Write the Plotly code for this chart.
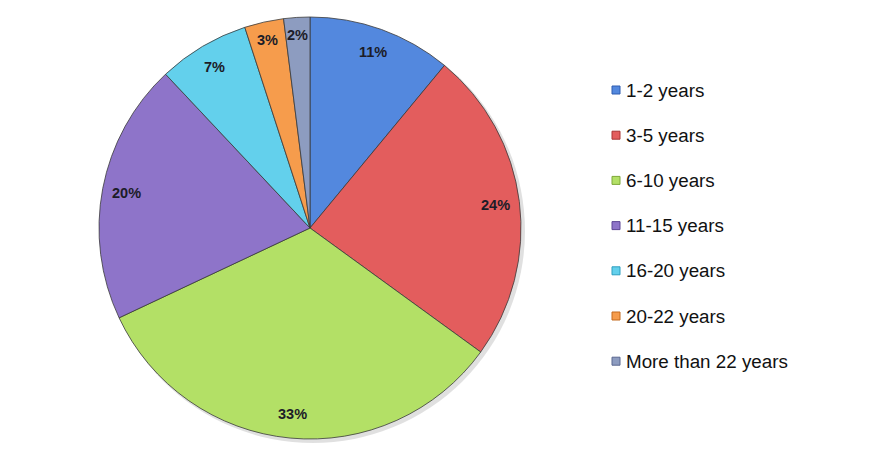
import math
import plotly.graph_objects as go

labels = ["1-2 years", "3-5 years", "6-10 years", "11-15 years",
          "16-20 years", "20-22 years", "More than 22 years"]
values = [11, 24, 33, 20, 7, 3, 2]
colors = ["#5388de", "#e35d5d", "#b3e066", "#8e74c9", "#63d0ec", "#f69c4c", "#8d9cc0"]
edge_colors = ["#2f5db0", "#a93434", "#7fa83a", "#5e4796", "#2e9fbf", "#c46a1e", "#5a6890"]

W, H = 894, 454
cx, cy, R = 310, 228, 211

fig = go.Figure()
fig.add_trace(go.Pie(
    labels=labels, values=values, sort=False, direction="clockwise", rotation=0,
    marker=dict(colors=colors, line=dict(color="#3a3a3a", width=0.8)),
    textinfo="none", hoverinfo="label+percent", showlegend=False,
    domain=dict(x=[(cx - R) / W, (cx + R) / W], y=[1 - (cy + R) / H, 1 - (cy - R) / H]),
))

# percentage labels near the outer edge, placed from the cumulative data
total = sum(values)
cum = 0
annotations = []
for v in values:
    frac = v / total
    mid = (cum + v / 2) / total
    cum += v
    ang = mid * 2 * math.pi
    rr = (0.915 if frac < 0.05 else 0.885) * R
    px = cx + rr * math.sin(ang)
    py = cy - rr * math.cos(ang)
    annotations.append(dict(
        x=px / W, y=1 - py / H, xref="paper", yref="paper",
        xanchor="center", yanchor="middle",
        text=f"<b>{round(100 * v / total)}%</b>", showarrow=False,
        font=dict(family="Liberation Sans, Arial", size=14.5, color="#1c1c28"),
    ))

# soft shadow behind the pie
shapes = [dict(type="circle", xref="paper", yref="paper", layer="below",
               x0=(cx - R + 2) / W, x1=(cx + R + 4) / W,
               y0=1 - (cy + R + 4) / H, y1=1 - (cy - R + 2) / H,
               fillcolor="rgba(0,0,0,0.12)", line=dict(width=0))]

# custom legend
lx, ly0, step = 612, 90, 45.2
for i, (lab, c, ec) in enumerate(zip(labels, colors, edge_colors)):
    y = ly0 + i * step
    shapes.append(dict(type="rect", xref="paper", yref="paper",
                       x0=lx / W, x1=(lx + 8) / W, y0=1 - (y + 4) / H, y1=1 - (y - 4) / H,
                       fillcolor=c, line=dict(color=ec, width=1)))
    annotations.append(dict(
        x=(lx + 12) / W, y=1 - y / H, xref="paper", yref="paper",
        xanchor="left", yanchor="middle", text=lab, showarrow=False,
        font=dict(family="Liberation Sans, Arial", size=18.8, color="#111111"),
    ))

fig.update_layout(
    width=W, height=H, margin=dict(l=0, r=0, t=0, b=0),
    paper_bgcolor="white", plot_bgcolor="white",
    annotations=annotations, shapes=shapes, showlegend=False,
)
fig.write_html("out.html", config={"displayModeBar": False},
               post_script="document.body.style.margin='0';document.body.style.padding='0';")
